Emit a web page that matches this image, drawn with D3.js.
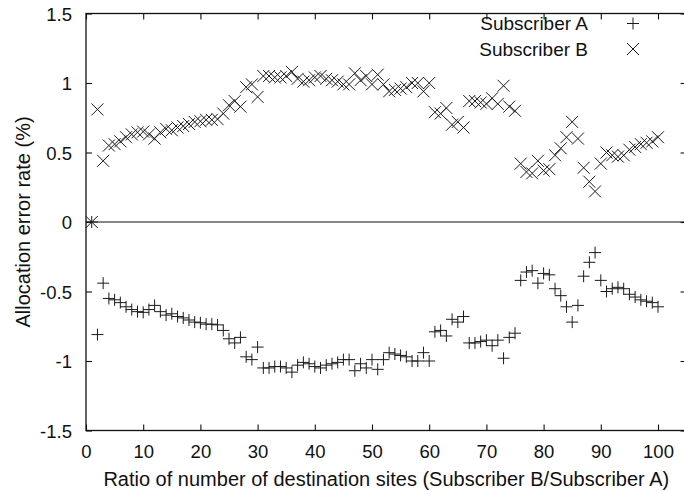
<!DOCTYPE html>
<html>
<head>
<meta charset="utf-8">
<script src="https://cdn.jsdelivr.net/npm/d3@7"></script>
<style>
  html, body { margin: 0; padding: 0; background: #fff; }
  svg { display: block; }
  text { font-family: "Liberation Sans", Arial, Helvetica, sans-serif; fill: #111; }
</style>
</head>
<body>
<svg id="chart" width="684" height="491"></svg>
<script>
// ---- Data ----
const ratios = d3.range(1, 101); // 1..100
const subscriberB = [
  0.00, 0.81, 0.44, 0.55, 0.56, 0.58, 0.61, 0.63, 0.645, 0.65,
  0.63, 0.60, 0.645, 0.67, 0.66, 0.68, 0.69, 0.705, 0.72, 0.725,
  0.735, 0.735, 0.74, 0.78, 0.84, 0.87, 0.83, 0.97, 0.99, 0.90,
  1.05, 1.05, 1.04, 1.04, 1.05, 1.08, 1.03, 1.01, 1.02, 1.04,
  1.05, 1.03, 1.02, 1.01, 0.99, 0.99, 1.07, 1.02, 1.05, 0.99,
  1.06, 0.99, 0.94, 0.95, 0.96, 0.97, 1.00, 1.00, 0.94, 1.00,
  0.79, 0.78, 0.82, 0.70, 0.72, 0.68, 0.87, 0.87, 0.86, 0.85,
  0.89, 0.85, 0.98, 0.83, 0.80, 0.42, 0.36, 0.35, 0.44, 0.37,
  0.38, 0.48, 0.53, 0.61, 0.72, 0.60, 0.39, 0.29, 0.22, 0.42,
  0.50, 0.48, 0.47, 0.48, 0.52, 0.54, 0.56, 0.57, 0.58, 0.61
];
const subscriberA = [
  0.00, -0.81, -0.44, -0.55, -0.56, -0.58, -0.61, -0.63, -0.645, -0.65,
  -0.63, -0.60, -0.645, -0.67, -0.66, -0.68, -0.69, -0.705, -0.72, -0.725,
  -0.735, -0.735, -0.74, -0.78, -0.84, -0.87, -0.83, -0.97, -0.99, -0.90,
  -1.05, -1.05, -1.04, -1.04, -1.05, -1.08, -1.03, -1.01, -1.02, -1.04,
  -1.05, -1.03, -1.02, -1.01, -0.99, -0.99, -1.07, -1.02, -1.05, -0.99,
  -1.06, -0.99, -0.94, -0.95, -0.96, -0.97, -1.00, -1.00, -0.94, -1.00,
  -0.79, -0.78, -0.82, -0.70, -0.72, -0.68, -0.87, -0.87, -0.86, -0.85,
  -0.89, -0.85, -0.98, -0.83, -0.80, -0.42, -0.36, -0.35, -0.44, -0.37,
  -0.38, -0.48, -0.53, -0.61, -0.72, -0.60, -0.39, -0.29, -0.22, -0.42,
  -0.50, -0.48, -0.47, -0.48, -0.52, -0.54, -0.56, -0.57, -0.58, -0.61
];
const xTicks = [0, 10, 20, 30, 40, 50, 60, 70, 80, 90, 100];
const yTicks = [-1.5, -1, -0.5, 0, 0.5, 1, 1.5];
const seriesNames = ["Subscriber A", "Subscriber B"];

// ---- Layout ----
const svg = d3.select("#chart");
const pL = 86, pR = 686.6, pT = 13.5, pB = 430.5;
const x = d3.scaleLinear().domain([0, 105]).range([pL, pR]);
const y = d3.scaleLinear().domain([-1.5, 1.5]).range([pB, pT]);
const ink = "#111";
const tickFont = 18.5, titleFont = 20, legendFont = 19;

// Frame
svg.append("rect")
  .attr("x", pL).attr("y", pT)
  .attr("width", pR - pL).attr("height", pB - pT)
  .attr("fill", "none").attr("stroke", ink).attr("stroke-width", 1.3);

// Axes with inward ticks
const axB = d3.axisBottom(x).tickValues(xTicks).tickSizeInner(-6).tickSizeOuter(0).tickPadding(14).tickFormat(d3.format("d"));
const axT = d3.axisTop(x).tickValues(xTicks).tickSizeInner(-6).tickSizeOuter(0).tickFormat("");
const axL = d3.axisLeft(y).tickValues(yTicks).tickSizeInner(-6).tickSizeOuter(0).tickPadding(14).tickFormat(d => String(d));
const axR = d3.axisRight(y).tickValues(yTicks).tickSizeInner(-6).tickSizeOuter(0).tickFormat("");

function styleAxis(g) {
  g.select(".domain").remove();
  g.selectAll(".tick line").attr("stroke", ink).attr("stroke-width", 1.1);
  g.selectAll("text").attr("font-size", tickFont).attr("fill", ink)
    .attr("font-family", '"Liberation Sans", Arial, sans-serif');
}
svg.append("g").attr("transform", `translate(0,${pB})`).call(axB).call(styleAxis)
  .selectAll("text").attr("dy", null).attr("y", 27);
svg.append("g").attr("transform", `translate(0,${pT})`).call(axT).call(styleAxis);
svg.append("g").attr("transform", `translate(${pL},0)`).call(axL).call(styleAxis)
  .selectAll("text").attr("x", -14).attr("dy", "0.36em");
svg.append("g").attr("transform", `translate(${pR},0)`).call(axR).call(styleAxis);

// Zero line
svg.append("line")
  .attr("x1", x(0)).attr("x2", pR)
  .attr("y1", y(0)).attr("y2", y(0))
  .attr("stroke", ink).attr("stroke-width", 1.2);

// Axis titles
svg.append("text")
  .attr("x", (pL + pR) / 2).attr("y", 486)
  .attr("text-anchor", "middle").attr("font-size", titleFont)
  .text("Ratio of number of destination sites (Subscriber B/Subscriber A)");
svg.append("text")
  .attr("transform", `translate(30,${(pT + pB) / 2}) rotate(-90)`)
  .attr("text-anchor", "middle").attr("font-size", titleFont)
  .text("Allocation error rate (%)");

// Markers
const plusPath = "M-6,0H6M0,-6V6";
const crossPath = "M-6,-6L6,6M-6,6L6,-6";
const dataA = ratios.map((r, i) => ({ r, v: subscriberA[i] }));
const dataB = ratios.map((r, i) => ({ r, v: subscriberB[i] }));

svg.append("g").selectAll("path").data(dataA).join("path")
  .attr("transform", d => `translate(${x(d.r)},${y(d.v)})`)
  .attr("d", plusPath).attr("fill", "none").attr("stroke", "#1a1a1a").attr("stroke-width", 1);
svg.append("g").selectAll("path").data(dataB).join("path")
  .attr("transform", d => `translate(${x(d.r)},${y(d.v)})`)
  .attr("d", crossPath).attr("fill", "none").attr("stroke", "#1a1a1a").attr("stroke-width", 1);

// Legend
const legend = svg.append("g");
const legY = [30, 55.5];
const legPaths = [plusPath, crossPath];
seriesNames.forEach((name, i) => {
  legend.append("text").attr("x", 588).attr("y", legY[i])
    .attr("text-anchor", "end").attr("font-size", legendFont).text(name);
  legend.append("path")
    .attr("transform", `translate(633,${legY[i] - 6.5})`)
    .attr("d", legPaths[i]).attr("fill", "none").attr("stroke", "#1a1a1a").attr("stroke-width", 1);
});
</script>
</body>
</html>
